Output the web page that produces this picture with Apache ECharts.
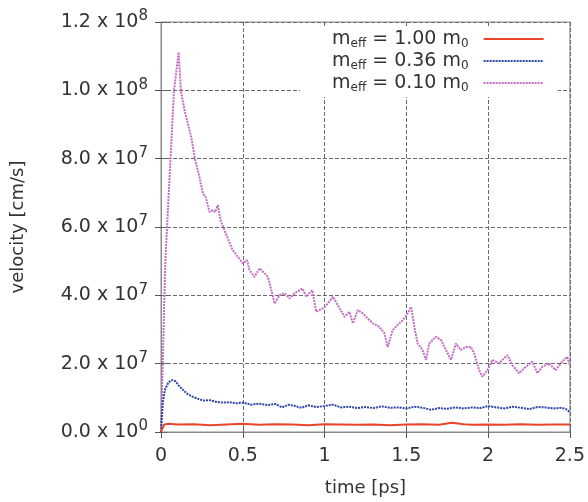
<!DOCTYPE html>
<html><head><meta charset="utf-8">
<script src="https://cdn.jsdelivr.net/npm/echarts@6/dist/echarts.min.js"></script>
<style>html,body{margin:0;padding:0;background:#fff}#c{width:588px;height:502px}</style>
</head><body><div id="c"></div>
<script>
// values in units of 1e7 cm/s, time in ps
var seriesNames = ['m{sub|eff} = 1.00 m{sub|0}', 'm{sub|eff} = 0.36 m{sub|0}', 'm{sub|eff} = 0.10 m{sub|0}'];
var xTicks = [0, 0.5, 1, 1.5, 2, 2.5];
var yTickLabels = ['0.0 x 10|0', '2.0 x 10|7', '4.0 x 10|7', '6.0 x 10|7', '8.0 x 10|7', '1.0 x 10|8', '1.2 x 10|8'];

var redT = [0,0.01,0.02,0.05,0.1,0.2,0.3,0.4,0.5,0.6,0.7,0.8,0.9,1.0,1.1,1.2,1.3,1.4,1.5,1.6,1.7,1.78,1.85,1.9,2.0,2.1,2.2,2.3,2.4,2.5];
var redV = [0,0.12,0.22,0.24,0.22,0.23,0.20,0.22,0.24,0.21,0.23,0.22,0.20,0.23,0.22,0.21,0.22,0.20,0.22,0.23,0.21,0.27,0.23,0.21,0.22,0.21,0.23,0.21,0.22,0.22];

var blueT = [0,0.005,0.012,0.025,0.045,0.07,0.09,0.11,0.13,0.16,0.19,0.22,0.26,0.30,0.34,0.38,0.42,0.46,0.50,0.55,0.60,0.65,0.70,0.74,0.78,0.82,0.86,0.90,0.95,1.00,1.05,1.10,1.15,1.20,1.25,1.30,1.35,1.40,1.45,1.50,1.55,1.60,1.65,1.70,1.75,1.80,1.85,1.90,1.95,2.00,2.05,2.10,2.15,2.20,2.25,2.30,2.35,2.40,2.45,2.48,2.50];
var blueV = [0,0.4,0.9,1.25,1.45,1.52,1.48,1.35,1.25,1.12,1.04,0.98,0.92,0.93,0.88,0.86,0.87,0.84,0.86,0.80,0.83,0.79,0.82,0.72,0.80,0.76,0.71,0.78,0.73,0.76,0.80,0.72,0.74,0.70,0.73,0.70,0.75,0.71,0.72,0.69,0.74,0.71,0.65,0.70,0.68,0.72,0.69,0.72,0.70,0.76,0.72,0.69,0.74,0.71,0.67,0.73,0.72,0.69,0.71,0.66,0.58];

var magT = [0,0.026,0.079,0.108,0.122,0.148,0.185,0.209,0.230,0.256,0.273,0.297,0.317,0.331,0.348,0.364,0.388,0.413,0.439,0.470,0.500,0.526,0.541,0.571,0.604,0.634,0.654,0.695,0.726,0.756,0.787,0.817,0.864,0.888,0.925,0.949,0.990,1.020,1.051,1.081,1.122,1.152,1.173,1.203,1.234,1.264,1.295,1.335,1.366,1.386,1.416,1.447,1.477,1.508,1.529,1.549,1.569,1.599,1.620,1.640,1.681,1.712,1.742,1.773,1.803,1.834,1.864,1.895,1.915,1.945,1.965,1.996,2.026,2.067,2.118,2.148,2.189,2.230,2.270,2.301,2.331,2.372,2.413,2.453,2.483,2.5];
var magV = [0,4.94,9.97,11.12,9.97,9.33,8.63,7.95,7.57,6.99,6.88,6.44,6.49,6.44,6.64,6.20,5.91,5.61,5.32,5.13,4.94,5.03,4.74,4.54,4.79,4.64,4.54,3.76,4.01,4.06,3.91,4.06,4.20,3.96,4.15,3.52,3.62,3.76,3.96,3.71,3.37,3.52,3.18,3.57,3.47,3.32,3.18,3.08,2.89,2.49,2.98,3.13,3.27,3.47,3.66,3.08,2.59,2.40,2.11,2.59,2.79,2.69,2.40,2.11,2.59,2.40,2.49,2.49,2.30,1.81,1.62,1.81,2.11,2.01,2.25,1.96,1.72,1.91,2.06,1.72,1.91,2.01,1.81,2.06,2.20,1.96];

function pairs(t, v) { return t.map(function (x, i) { return [x, v[i]]; }); }

var FONT = '"DejaVu Sans", sans-serif';
var TXT = '#333';
var chart = echarts.init(document.getElementById('c'), null, {renderer: 'canvas'});
var gridLine = {show: true, lineStyle: {color: '#6a6a6a', width: 1, type: [4, 2]}};
var yLabel = {
  fontFamily: FONT, fontSize: 19, color: TXT, margin: 13,
  formatter: function (v) {
    var i = Math.round(v / 2);
    var p = yTickLabels[i].split('|');
    return '{m|' + p[0] + '}{s|' + p[1] + '}';
  },
  rich: {
    m: {fontFamily: FONT, fontSize: 19, color: TXT, lineHeight: 26},
    s: {fontFamily: FONT, fontSize: 15, color: TXT, lineHeight: 15, verticalAlign: 'top'}
  }
};
var option = {
  backgroundColor: '#fff',
  animation: false,
  grid: {left: 161, right: 17, top: 22, bottom: 70, show: true, borderColor: '#8a8a8a', borderWidth: 1, z: 0},
  legend: {
    orient: 'vertical', left: 300, top: 26, padding: [2, 13, 3, 32], itemGap: 0,
    backgroundColor: '#fff', align: 'right', itemWidth: 60, itemHeight: 14,
    itemStyle: {opacity: 0},
    formatter: function (n) { return n; },
    textStyle: {
      fontFamily: FONT, fontSize: 19, color: TXT, lineHeight: 22, padding: [0, 10, 0, 0],
      rich: {sub: {fontFamily: FONT, fontSize: 12, color: TXT, lineHeight: 12, verticalAlign: 'bottom'}}
    },
    data: seriesNames
  },
  xAxis: [{
    type: 'value', min: 0, max: 2.5, interval: 0.5,
    name: 'time [ps]', nameLocation: 'middle', nameGap: 47,
    nameTextStyle: {fontFamily: FONT, fontSize: 18, color: TXT},
    axisLine: {show: true, lineStyle: {color: '#8a8a8a'}},
    axisTick: {show: true, inside: true, length: 6, lineStyle: {color: '#666'}},
    axisLabel: {fontFamily: FONT, fontSize: 19, color: TXT, margin: 15,
      formatter: function (v) { var i = xTicks.indexOf(Math.round(v * 10) / 10); return i >= 0 ? String(xTicks[i]) : ''; }},
    splitLine: gridLine
  }, {
    type: 'value', min: 0, max: 2.5, interval: 0.5, position: 'top',
    axisLine: {show: false}, axisLabel: {show: false}, splitLine: {show: false},
    axisTick: {show: true, inside: true, length: 6, lineStyle: {color: '#555'}}
  }],
  yAxis: [{
    type: 'value', min: 0, max: 12, interval: 2,
    name: 'velocity [cm/s]', nameLocation: 'middle', nameGap: 134,
    nameTextStyle: {fontFamily: FONT, fontSize: 18, color: TXT},
    axisLine: {show: true, lineStyle: {color: '#8a8a8a'}},
    axisTick: {show: true, inside: true, length: 6, lineStyle: {color: '#666'}},
    axisLabel: yLabel,
    splitLine: gridLine
  }, {
    type: 'value', min: 0, max: 12, interval: 2, position: 'right',
    axisLine: {show: false}, axisLabel: {show: false}, splitLine: {show: false},
    axisTick: {show: true, inside: true, length: 6, lineStyle: {color: '#555'}}
  }],
  series: [
    {name: seriesNames[0], type: 'line', data: pairs(redT, redV), showSymbol: false, symbol: 'none',
      lineStyle: {color: '#e8452c', width: 2}, itemStyle: {color: '#e8452c'}, z: 5},
    {name: seriesNames[1], type: 'line', data: pairs(blueT, blueV), showSymbol: false, symbol: 'none',
      lineStyle: {color: '#2b46a8', width: 2, type: [2, 1]}, itemStyle: {color: '#2b46a8'}, z: 4},
    {name: seriesNames[2], type: 'line', data: pairs(magT, magV), showSymbol: false, symbol: 'none',
      lineStyle: {color: '#c46cc4', width: 2, type: [2, 1]}, itemStyle: {color: '#c46cc4'}, z: 3}
  ]
};
chart.setOption(option);
</script></body></html>
